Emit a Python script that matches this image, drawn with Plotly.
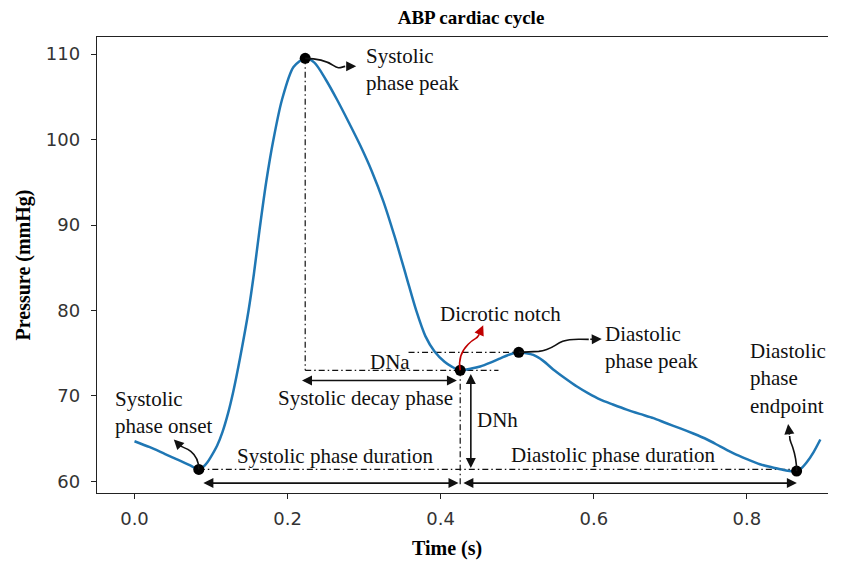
import plotly.graph_objects as go

# ---------------- data ----------------
time_s = [0.0, 0.02, 0.04, 0.06, 0.072, 0.084, 0.09, 0.095, 0.1, 0.108, 0.115,
          0.122, 0.129, 0.138, 0.149, 0.156, 0.1633, 0.172, 0.1815, 0.1925, 0.2077,
          0.223, 0.235, 0.25, 0.265, 0.28, 0.295, 0.31, 0.325, 0.34, 0.355,
          0.368, 0.38, 0.392, 0.405, 0.415, 0.4255, 0.44, 0.4516, 0.465, 0.478,
          0.49, 0.502, 0.512, 0.521, 0.534, 0.547, 0.562, 0.578, 0.593, 0.608,
          0.625, 0.643, 0.66, 0.678, 0.695, 0.713, 0.73, 0.748, 0.765, 0.782,
          0.8, 0.817, 0.835, 0.85, 0.865, 0.872, 0.878, 0.887, 0.896]
pressure_mmhg = [64.7, 64.0, 63.2, 62.4, 61.9, 61.4, 61.7, 62.2, 62.9, 64.2, 65.8,
                 67.9, 70.5, 74.5, 80.0, 84.3, 89.4, 95.0, 100.0, 104.6, 108.5,
                 109.5, 109.0, 107.0, 104.6, 102.0, 99.3, 96.3, 92.8, 88.6, 84.0,
                 80.0, 77.0, 75.2, 74.0, 73.4, 73.0, 73.2, 73.45, 73.9, 74.4,
                 74.85, 75.1, 75.0, 74.8, 74.1, 73.1, 72.1, 71.1, 70.3, 69.6,
                 69.0, 68.4, 67.9, 67.4, 66.8, 66.2, 65.6, 64.9, 64.1, 63.3,
                 62.6, 62.0, 61.6, 61.3, 61.2, 61.6, 62.2, 63.4, 64.9]

# key feature points (indices into the series above)
key_labels = ["Systolic phase onset", "Systolic phase peak", "Dicrotic notch",
              "Diastolic phase peak", "Diastolic phase endpoint"]
key_index = [5, 21, 36, 42, 65]
key_time = [time_s[i] for i in key_index]
key_pressure = [pressure_mmhg[i] for i in key_index]

x_ticks = [0.0, 0.2, 0.4, 0.6, 0.8]
x_tick_text = ["0.0", "0.2", "0.4", "0.6", "0.8"]
y_ticks = [60, 70, 80, 90, 100, 110]
y_tick_text = ["60", "70", "80", "90", "100", "110"]

onset_t, peak_t, notch_t, dpeak_t, end_t = key_time
onset_p, peak_p, notch_p, dpeak_p, end_p = key_pressure

SERIF = "Liberation Serif, Times New Roman, serif"
SANS = "DejaVu Sans, sans-serif"
TXT = 21
BLACK = "#111111"
DASHDOT = "6px,3px,1.5px,3px"

fig = go.Figure()
fig.add_trace(go.Scatter(x=time_s, y=pressure_mmhg, mode="lines",
                         line=dict(color="#1f77b4", width=2.5, shape="spline", smoothing=0.8),
                         hoverinfo="skip", showlegend=False))
fig.add_trace(go.Scatter(x=key_time, y=key_pressure, mode="markers", text=key_labels,
                         marker=dict(color="black", size=11), showlegend=False))

shapes = []
annotations = []


def dd_line(x0, y0, x1, y1):
    shapes.append(dict(type="line", xref="x", yref="y", x0=x0, y0=y0, x1=x1, y1=y1,
                       line=dict(color=BLACK, width=1.2, dash=DASHDOT), layer="below"))


def darrow(x0, y0, x1, y1):
    annotations.append(dict(x=x1, y=y1, ax=x0, ay=y0, xref="x", yref="y", axref="x", ayref="y",
                            text="", showarrow=True, arrowhead=2, startarrowhead=2,
                            arrowside="end+start", arrowsize=1.25, startarrowsize=1.25,
                            arrowwidth=1.6, arrowcolor=BLACK, standoff=0, startstandoff=0))


def label(x, y, s, xanchor="left"):
    annotations.append(dict(x=x, y=y, xref="x", yref="y", text=s, showarrow=False,
                            xanchor=xanchor, yanchor="middle", align=xanchor,
                            font=dict(family=SERIF, size=TXT, color=BLACK)))


def curved(xa, ya, path, tip, base, color=BLACK):
    shapes.append(dict(type="path", xref="x", yref="y", xsizemode="pixel", ysizemode="pixel",
                       xanchor=xa, yanchor=ya, path=path,
                       line=dict(color=color, width=1.6)))
    annotations.append(dict(x=xa, y=ya, xref="x", yref="y", xshift=tip[0], yshift=tip[1],
                            ax=base[0] - tip[0], ay=-(base[1] - tip[1]), text="",
                            showarrow=True, arrowhead=2, arrowsize=1.25, arrowwidth=1.6,
                            arrowcolor=color, standoff=0))


# dash-dot guide lines
dd_line(peak_t, peak_p, peak_t, notch_p)          # vertical from systolic peak
dd_line(peak_t, notch_p, 0.4755, notch_p)        # notch level (DNa)
dd_line(0.358, dpeak_p, dpeak_t, dpeak_p)        # diastolic-peak level
dd_line(notch_t, notch_p, notch_t, 59.4)         # vertical at notch
dd_line(onset_t, onset_p, end_t, onset_p)        # baseline

# double arrows
darrow(0.088, 59.8, 0.4233, 59.8)     # systolic phase duration
darrow(0.4277, 59.8, 0.8653, 59.8)    # diastolic phase duration
darrow(0.2169, 71.8, 0.4212, 71.8)    # systolic decay phase
darrow(0.4394, 72.75, 0.4394, 61.56)  # DNh

# curved pointer arrows
curved(peak_t, peak_p, "M 0 0 C 14 0 22 -3 28 -7 S 35 -9 40 -8", (51, -8), (40, -8))
curved(onset_t, onset_p, "M 0 0 C 0 8 -3 14 -8 18 S -15 21 -19 24", (-25, 30), (-19, 24))
curved(notch_t, notch_p, "M 0 0 C -2 10 0 18 8 26 S 16 30 19 36", (23, 45), (19, 36), color="#c00000")
curved(dpeak_t, dpeak_p, "M 0 0 L 20 1 C 32 2 36 8 44 11 S 56 13 70 13", (83, 13.4), (70, 13))
curved(end_t, end_p, "M 0 0 C 0 12 -2 18 -4 24 S -7 30 -7 35", (-8.5, 47), (-7, 35))

# text labels
label(-0.0275, 68.04, "Systolic<br>phase onset")
label(0.2992, 108.15, "Systolic<br>phase peak")
label(0.397, 79.62, "Dicrotic notch")
label(0.612, 75.64, "Diastolic<br>phase peak")
label(0.801, 72.01, "Diastolic<br>phase<br>endpoint")
label(0.334, 73.92, "DNa", "center")
label(0.3014, 69.8, "Systolic decay phase", "center")
label(0.445, 67.22, "DNh")
label(0.2622, 63.0, "Systolic phase duration", "center")
label(0.6257, 63.12, "Diastolic phase duration", "center")

# x-axis title, placed where the reference has it (left of the plot-area centre)
annotations.append(dict(x=(447 - 97) / 731, y=-(548 - 493) / 456, xref="paper", yref="paper",
                        text="Time (s)", showarrow=False, xanchor="center", yanchor="middle",
                        font=dict(family=SERIF, size=20, color="black", weight="bold")))

# the page body adds an 8px offset, so the figure is placed at (8, 8)
fig.update_layout(
    width=820, height=554,
    margin=dict(l=89, r=0, t=29, b=69),
    paper_bgcolor="white", plot_bgcolor="white",
    title=dict(text="ABP cardiac cycle", x=463 / 820, xref="container", y=1 - 9.5 / 554,
               yref="container", xanchor="center", yanchor="middle",
               font=dict(family=SERIF, size=19, color="black", weight="bold")),
    shapes=shapes, annotations=annotations, showlegend=False,
    xaxis=dict(range=[-0.049, 0.906], tickvals=x_ticks, ticktext=x_tick_text,
               showgrid=False, zeroline=False, showline=True, linecolor="#222", linewidth=1.4,
               mirror=True, ticks="outside", ticklen=5, tickwidth=1.2, tickcolor="#222",
               ticklabelstandoff=4,
               tickfont=dict(family=SANS, size=18, color="#333")),
    yaxis=dict(range=[58.64, 112.0], tickvals=y_ticks, ticktext=y_tick_text,
               showgrid=False, zeroline=False, showline=True, linecolor="#222", linewidth=1.4,
               mirror=False, ticks="outside", ticklen=5, tickwidth=1.2, tickcolor="#222",
               ticklabelstandoff=7,
               tickfont=dict(family=SANS, size=18, color="#333"),
               title=dict(text="Pressure (mmHg)", standoff=9,
                          font=dict(family=SERIF, size=20, color="black", weight="bold"))),
)

fig.write_html("out.html")
